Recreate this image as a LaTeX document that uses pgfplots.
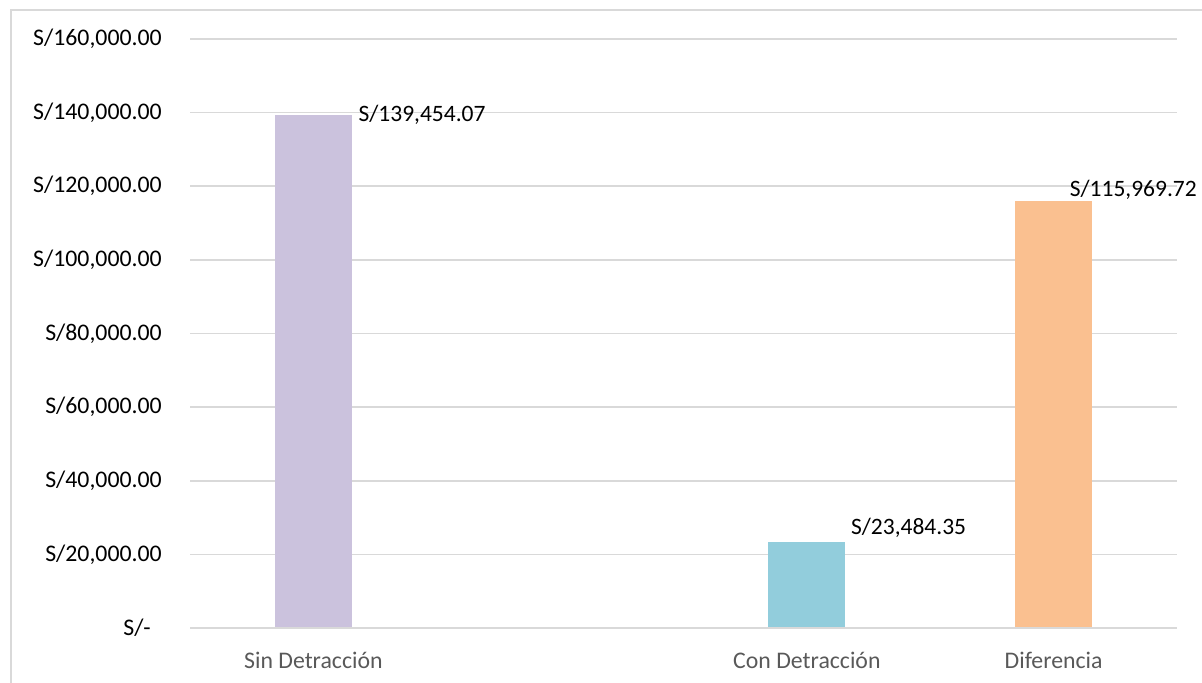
\documentclass[border=0pt]{standalone}
\usepackage{pgfplots}
\pgfplotsset{compat=1.18}
\usepackage{fontspec}
\setmainfont{Carlito}
\definecolor{cSin}{HTML}{CBC2DD}
\definecolor{cCon}{HTML}{92CDDC}
\definecolor{cDif}{HTML}{FAC090}
\definecolor{gridc}{HTML}{D9D9D9}
\definecolor{xlab}{HTML}{595959}
\begin{document}
\fontsize{23.8bp}{28bp}\selectfont
\begin{tikzpicture}
\useasboundingbox (0,0) rectangle (1202bp,683bp);
\draw[gridc, line width=2bp] (10.5bp,-2bp) -- (10.5bp,673bp) -- (1204bp,673bp);
\begin{axis}[
  at={(190bp,55bp)}, anchor=south west,
  scale only axis, width=987bp, height=589bp,
  xmin=0, xmax=4, ymin=0, ymax=160000,
  scaled y ticks=false,
  axis line style={draw=none},
  ymajorgrids, grid style={gridc, line width=1.6bp},
  major tick length=0pt,
  ytick={0,20000,40000,60000,80000,100000,120000,140000,160000},
  yticklabels={{S/-\hspace*{11bp}},{S/20,000.00},{S/40,000.00},{S/60,000.00},{S/80,000.00},{S/100,000.00},{S/120,000.00},{S/140,000.00},{S/160,000.00}},
  yticklabel style={anchor=east, inner sep=0pt, xshift=-28bp, font=\fontsize{23.8bp}{28bp}\selectfont},
  xtick={0.5,2.5,3.5},
  xticklabels={Sin Detracción,Con Detracción,Diferencia},
  xticklabel style={anchor=center, inner sep=0pt, yshift=-32bp, text=xlab, font=\fontsize{23.8bp}{28bp}\selectfont},
  /pgf/number format/assume math mode=true,
  ybar, bar width=77bp, bar shift=0pt,
  nodes near coords,
  every node near coord/.append style={anchor=west, inner sep=0pt, text=black, font=\fontsize{23.5bp}{28bp}\selectfont},
  clip=false,
]
\addplot[fill=cSin, draw=none,
  nodes near coords={S/139,454.07},
  every node near coord/.append style={xshift=45bp, yshift=0bp}]
  coordinates {(0.5,139454.07)};
\addplot[fill=cCon, draw=none,
  nodes near coords={S/23,484.35},
  every node near coord/.append style={xshift=44bp, yshift=14bp}]
  coordinates {(2.5,23484.35)};
\addplot[fill=cDif, draw=none,
  nodes near coords={S/115,969.72},
  every node near coord/.append style={xshift=16bp, yshift=11bp}]
  coordinates {(3.5,115969.72)};
\draw[gridc, line width=1.6bp] (axis cs:0,0) -- (axis cs:4,0);
\end{axis}
\end{tikzpicture}
\end{document}
